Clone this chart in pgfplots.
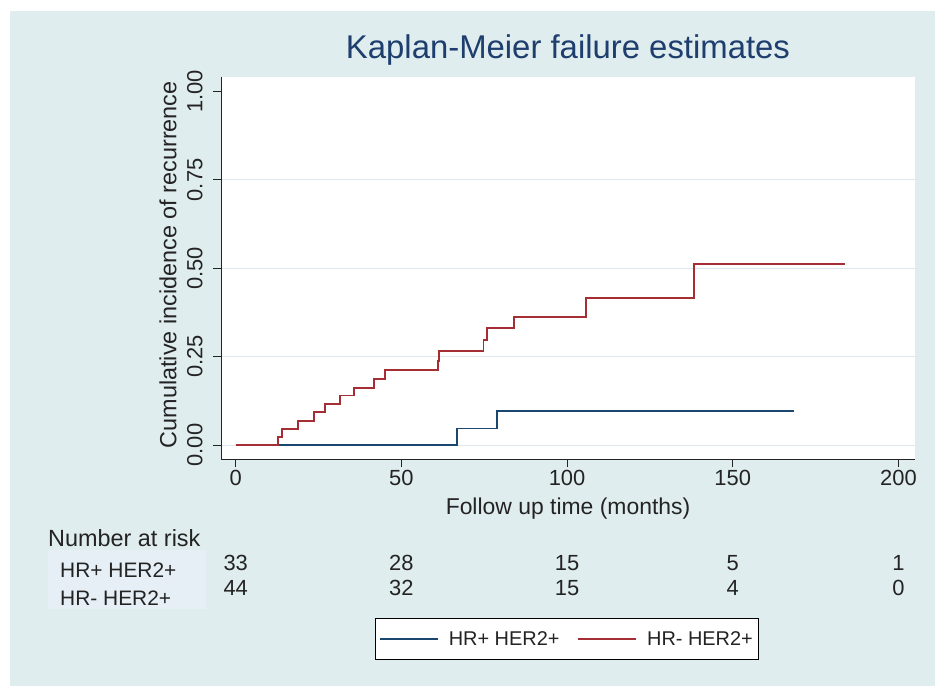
\documentclass[border=0pt]{standalone}
\usepackage{fontspec}
\setmainfont{Liberation Sans}
\usepackage{pgfplots}
\pgfplotsset{compat=1.18}
\definecolor{bgcol}{RGB}{224,237,239}
\definecolor{boxcol}{RGB}{229,239,245}
\definecolor{gridcol}{RGB}{220,232,236}
\definecolor{navyS}{RGB}{26,71,111}
\definecolor{maroonS}{RGB}{165,45,52}
\definecolor{titlecol}{RGB}{30,62,110}
\definecolor{txt}{RGB}{35,35,35}

\begin{document}
\begin{tikzpicture}
\path[use as bounding box] (0bp,0bp) rectangle (935bp,686bp);
\fill[white] (0bp,0bp) rectangle (935bp,686bp);
\fill[bgcol] (10bp,0bp) rectangle (935bp,675bp);
\fill[boxcol] (48bp,77bp) rectangle (206bp,136bp);
\begin{axis}[
  at={(221bp,227bp)}, anchor=south west,
  scale only axis, width=694bp, height=382.3bp,
  xmin=-4.44, xmax=205, ymin=-0.0396, ymax=1.042,
  clip=false,
  axis x line*=bottom, axis y line*=left,
  axis line style={-, draw=txt, line width=1bp},
  axis background/.style={fill=white},
  xtick={0,50,100,150,200},
  ytick={0,0.25,0.5,0.75}, extra y ticks={1}, extra y tick style={grid=none},
  ymajorgrids, grid style={gridcol, line width=1bp},
  tick align=outside, major tick length=8bp, tick style={txt, line width=0.9bp},
  ticklabel style={font=\fontsize{22}{26}\selectfont, text=txt},
  /pgf/number format/assume math mode=true,
  y tick label style={rotate=90, anchor=south, yshift=7bp, /pgf/number format/.cd, fixed, fixed zerofill, precision=2},
  yticklabel style={/pgf/number format/.cd, fixed, fixed zerofill, precision=2},
  xlabel={Follow up time (months)},
  xlabel style={at={(axis description cs:0.5,0)}, anchor=center, yshift=-50bp, font=\fontsize{23}{27}\selectfont, text=txt},
  ylabel={Cumulative incidence of recurrence},
  ylabel style={at={(axis description cs:0,0.5)}, anchor=center, yshift=53bp, xshift=3bp, font=\fontsize{23.5}{27}\selectfont, text=txt},
  legend columns=2,
  legend style={at={(0.4986,-0.4708)}, anchor=center, draw=black, line width=1.2bp, fill=white,
    font=\fontsize{20}{24}\selectfont, text=txt, inner xsep=4bp, inner ysep=11bp,
    /tikz/every odd column/.append style={column sep=8bp},
    /tikz/every even column/.append style={column sep=16bp}},
  legend image code/.code={\draw[#1, line width=1.6bp] (0bp,0bp) -- (58bp,0bp);},
]
\addplot[const plot, navyS, line width=1.8bp] coordinates {
(0,0) (66.8,0.0466) (78.8,0.096) (168.4,0.096)
};
\addlegendentry{HR+ HER2+}
\addplot[const plot, maroonS, line width=1.8bp] coordinates {
(0,0) (12.7,0.0227) (13.9,0.0455) (18.8,0.068) (23.6,0.093) (26.9,0.116)
(31.5,0.140) (35.8,0.162) (41.7,0.187) (45.0,0.212) (61.0,0.237) (61.4,0.266)
(74.8,0.298) (75.9,0.332) (84.0,0.363) (105.6,0.417) (138.4,0.513) (184,0.513)
};
\addlegendentry{HR- HER2+}
% number at risk
\node[font=\fontsize{22}{26}\selectfont, text=txt] at (axis cs:0,-0.334) {33};
\node[font=\fontsize{22}{26}\selectfont, text=txt] at (axis cs:50,-0.334) {28};
\node[font=\fontsize{22}{26}\selectfont, text=txt] at (axis cs:100,-0.334) {15};
\node[font=\fontsize{22}{26}\selectfont, text=txt] at (axis cs:150,-0.334) {5};
\node[font=\fontsize{22}{26}\selectfont, text=txt] at (axis cs:200,-0.334) {1};
\node[font=\fontsize{22}{26}\selectfont, text=txt] at (axis cs:0,-0.405) {44};
\node[font=\fontsize{22}{26}\selectfont, text=txt] at (axis cs:50,-0.405) {32};
\node[font=\fontsize{22}{26}\selectfont, text=txt] at (axis cs:100,-0.405) {15};
\node[font=\fontsize{22}{26}\selectfont, text=txt] at (axis cs:150,-0.405) {4};
\node[font=\fontsize{22}{26}\selectfont, text=txt] at (axis cs:200,-0.405) {0};
\end{axis}
\node[font=\fontsize{33}{38}\selectfont, text=titlecol] at (568bp,636bp) {Kaplan-Meier failure estimates};
\node[font=\fontsize{23.5}{27}\selectfont, text=txt, anchor=west, inner sep=0pt] at (48bp,148bp) {Number at risk};
\node[font=\fontsize{21}{25}\selectfont, text=txt, anchor=west, inner sep=0pt] at (60bp,116bp) {HR+ HER2+};
\node[font=\fontsize{21}{25}\selectfont, text=txt, anchor=west, inner sep=0pt] at (60bp,88bp) {HR- HER2+};
\end{tikzpicture}
\end{document}
